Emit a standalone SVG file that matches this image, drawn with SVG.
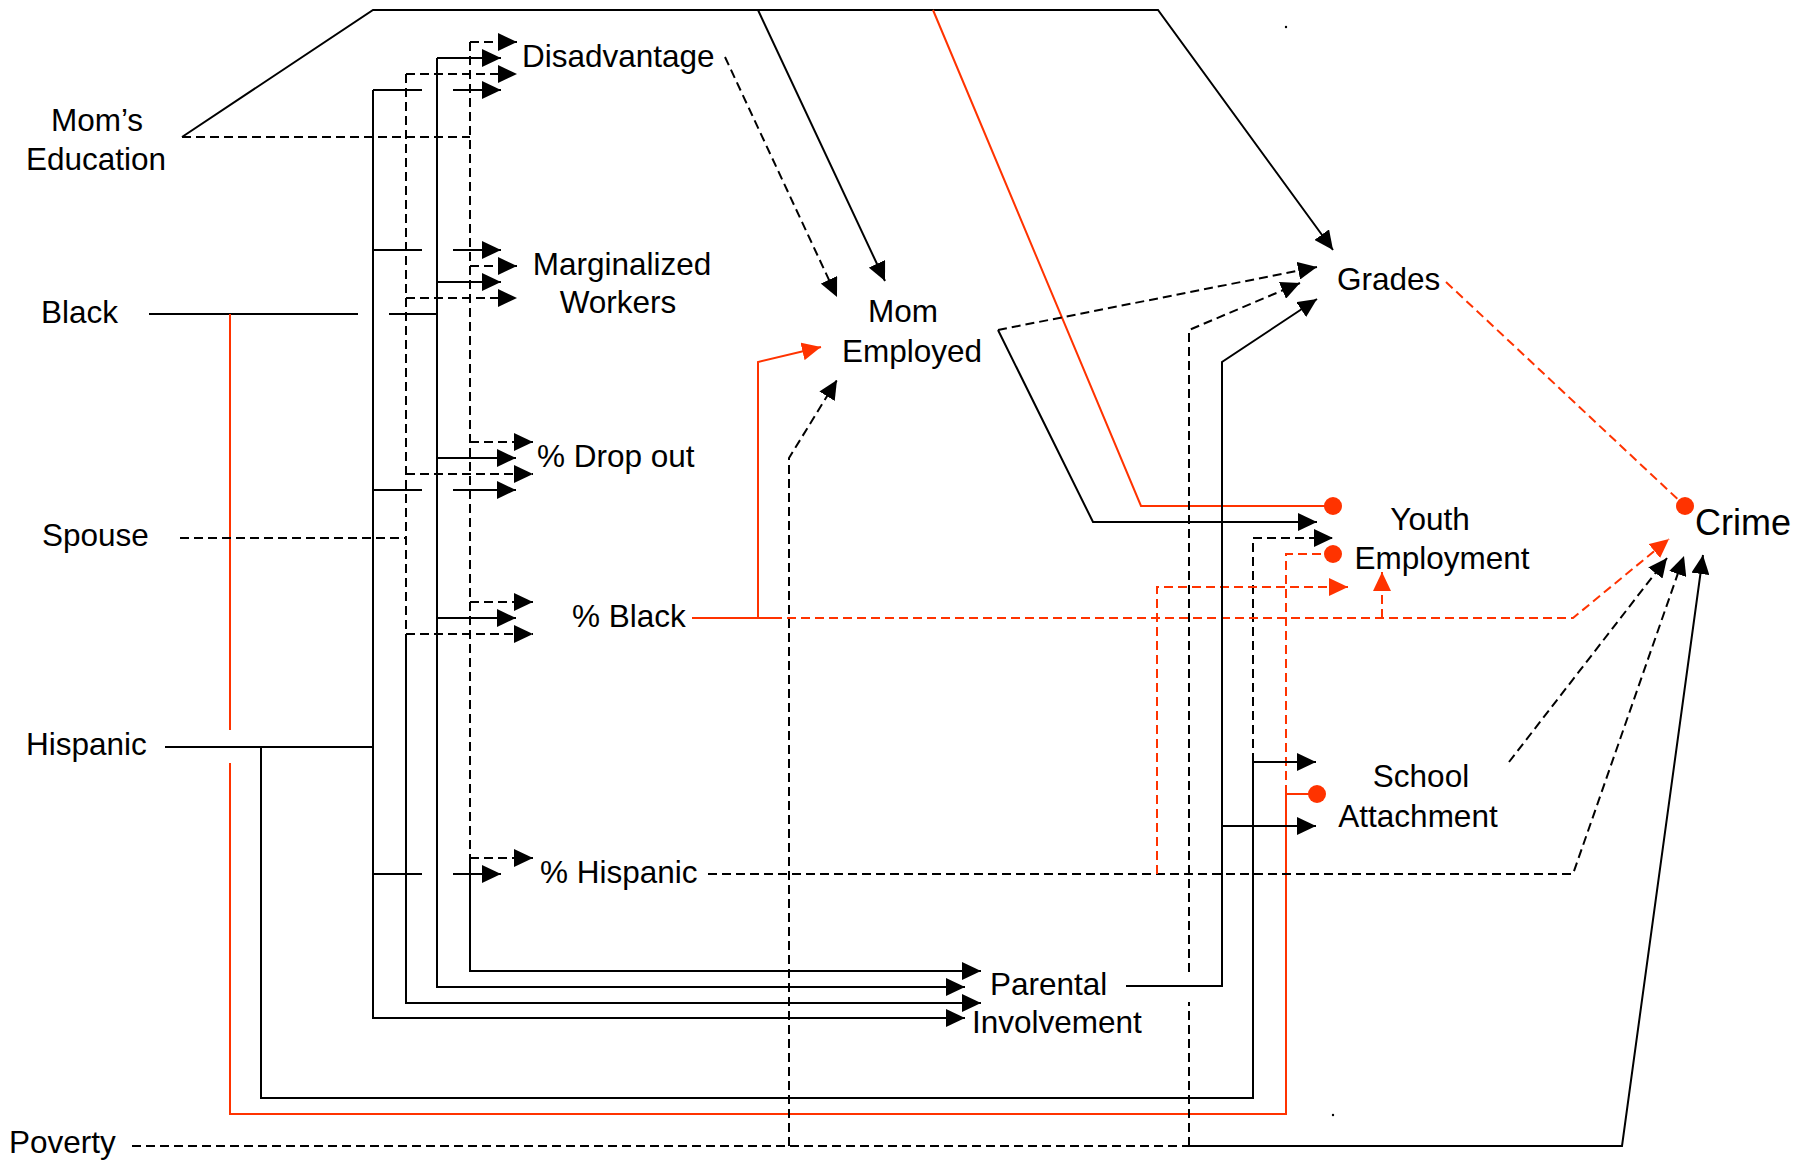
<svg xmlns="http://www.w3.org/2000/svg" width="1799" height="1161" viewBox="0 0 1799 1161">
<defs>
<style>
text{font-family:"Liberation Sans",Arial,sans-serif;font-size:31.5px;fill:#000}
.s{fill:none;stroke:#000;stroke-width:2}
.d{fill:none;stroke:#000;stroke-width:2;stroke-dasharray:9 5}
.rs{fill:none;stroke:#ff3300;stroke-width:2}
.rd{fill:none;stroke:#ff3300;stroke-width:2;stroke-dasharray:9 5}
.ab{marker-end:url(#ah)}
.ar{marker-end:url(#ahr)}
.dot{fill:#ff3300}
</style>
<marker id="ah" viewBox="0 0 19 18" markerWidth="19" markerHeight="18" refX="19" refY="9" orient="auto" markerUnits="userSpaceOnUse"><path d="M0,0 L19,9 L0,18 z" fill="#000"/></marker>
<marker id="ahr" viewBox="0 0 19 18" markerWidth="19" markerHeight="18" refX="19" refY="9" orient="auto" markerUnits="userSpaceOnUse"><path d="M0,0 L19,9 L0,18 z" fill="#ff3300"/></marker>
</defs>
<rect width="1799" height="1161" fill="#fff"/>
<g id="connectors">
<path class="s ab" d="M182,137 L373,10 L1158,10 L1333,250"/>
<path class="s ab" d="M758,10 L885,281"/>
<path class="rs" d="M933,10 L1141,506 L1333,506"/>
<path class="d" d="M182,137 L470,137"/>
<path class="d" d="M470,42 L470,858"/>
<path class="s ab" d="M470,858 L470,971 L981,971"/>
<path class="d ab" d="M470,42 L517,42"/>
<path class="d ab" d="M470,266 L517,266"/>
<path class="d ab" d="M470,442 L533,442"/>
<path class="d ab" d="M470,602 L533,602"/>
<path class="d ab" d="M470,858 L533,858"/>
<path class="s" d="M149,314 L358,314"/>
<path class="s" d="M389,314 L437,314"/>
<path class="s ab" d="M437,58 L437,987 L965,987"/>
<path class="s ab" d="M437,58 L501,58"/>
<path class="s ab" d="M437,282 L501,282"/>
<path class="s ab" d="M437,458 L516,458"/>
<path class="s ab" d="M437,618 L516,618"/>
<path class="rs" d="M230,314 L230,730"/>
<path class="rs" d="M230,763 L230,1114 L1286,1114 L1286,794"/>
<path class="rs" d="M1286,794 L1317,794"/>
<path class="rd" d="M1286,794 L1286,554 L1333,554"/>
<path class="d" d="M180,538 L406,538"/>
<path class="d" d="M406,74 L406,634"/>
<path class="s ab" d="M406,634 L406,1003 L981,1003"/>
<path class="d ab" d="M406,74 L517,74"/>
<path class="d ab" d="M406,298 L517,298"/>
<path class="d ab" d="M406,474 L533,474"/>
<path class="d ab" d="M406,634 L533,634"/>
<path class="s" d="M165,747 L373,747"/>
<path class="s ab" d="M373,90 L373,1018 L965,1018"/>
<path class="s" d="M373,90 L422,90"/>
<path class="s ab" d="M453,90 L501,90"/>
<path class="s" d="M373,250 L422,250"/>
<path class="s ab" d="M453,250 L501,250"/>
<path class="s" d="M373,490 L422,490"/>
<path class="s ab" d="M453,490 L516,490"/>
<path class="s" d="M373,874 L422,874"/>
<path class="s ab" d="M453,874 L501,874"/>
<path class="s" d="M261,747 L261,1098 L1253,1098 L1253,762"/>
<path class="s ab" d="M1253,762 L1316,762"/>
<path class="d ab" d="M1253,762 L1253,538 L1333,538"/>
<path class="d ab" d="M725,57 L837,297"/>
<path class="d ab" d="M998,330 L1317,267"/>
<path class="s ab" d="M998,330 L1093,522 L1317,522"/>
<path class="rs" d="M692,618 L773,618"/>
<path class="rs ar" d="M758,618 L758,362 L821,347"/>
<path class="rd ar" d="M773,618 L1573,618 L1669,539"/>
<path class="rd ar" d="M1382,618 L1382,572"/>
<path class="d ab" d="M708,874 L1573,874 L1684,556"/>
<path class="rd ar" d="M1157,874 L1157,587 L1348,587"/>
<path class="d" d="M132,1146 L1189,1146"/>
<path class="s ab" d="M1189,1146 L1622,1146 L1703,555"/>
<path class="d ab" d="M789,1146 L789,458 L837,380"/>
<path class="d" d="M1189,1146 L1189,1002"/>
<path class="d ab" d="M1189,972 L1189,330 L1300,283"/>
<path class="s ab" d="M1126,986 L1222,986 L1222,362 L1317,299"/>
<path class="s ab" d="M1222,826 L1316,826"/>
<path class="d ab" d="M1509,762 L1667,558"/>
<path class="rd" d="M1446,282 L1685,506"/>
<circle class="dot" cx="1333" cy="506" r="9"/>
<circle class="dot" cx="1333" cy="554" r="9"/>
<circle class="dot" cx="1317" cy="794" r="9"/>
<circle class="dot" cx="1685" cy="506" r="9"/>
<circle cx="1286" cy="27" r="1.2" fill="#000"/>
<circle cx="1333" cy="1115" r="1.2" fill="#000"/>
</g>
<g id="node-moms-education"><text x="97" y="131" text-anchor="middle">Mom’s</text><text x="96" y="170" text-anchor="middle">Education</text></g>
<g id="node-black"><text x="41" y="323">Black</text></g>
<g id="node-spouse"><text x="42" y="546">Spouse</text></g>
<g id="node-hispanic"><text x="26" y="755">Hispanic</text></g>
<g id="node-poverty"><text x="9" y="1153">Poverty</text></g>
<g id="node-disadvantage"><text x="522" y="67">Disadvantage</text></g>
<g id="node-marginalized"><text x="622" y="275" text-anchor="middle">Marginalized</text><text x="618" y="313" text-anchor="middle">Workers</text></g>
<g id="node-dropout"><text x="537" y="467">% Drop out</text></g>
<g id="node-pctblack"><text x="572" y="627">% Black</text></g>
<g id="node-pcthispanic"><text x="540" y="883">% Hispanic</text></g>
<g id="node-mom-employed"><text x="903" y="322" text-anchor="middle">Mom</text><text x="912" y="362" text-anchor="middle">Employed</text></g>
<g id="node-grades"><text x="1337" y="290">Grades</text></g>
<g id="node-youth-employment"><text x="1430" y="530" text-anchor="middle">Youth</text><text x="1442" y="569" text-anchor="middle">Employment</text></g>
<g id="node-school-attachment"><text x="1421" y="787" text-anchor="middle">School</text><text x="1418" y="827" text-anchor="middle">Attachment</text></g>
<g id="node-parental"><text x="990" y="995">Parental</text><text x="972" y="1033">Involvement</text></g>
<g id="node-crime"><text x="1695" y="535" style="font-size:36px">Crime</text></g>
</svg>
